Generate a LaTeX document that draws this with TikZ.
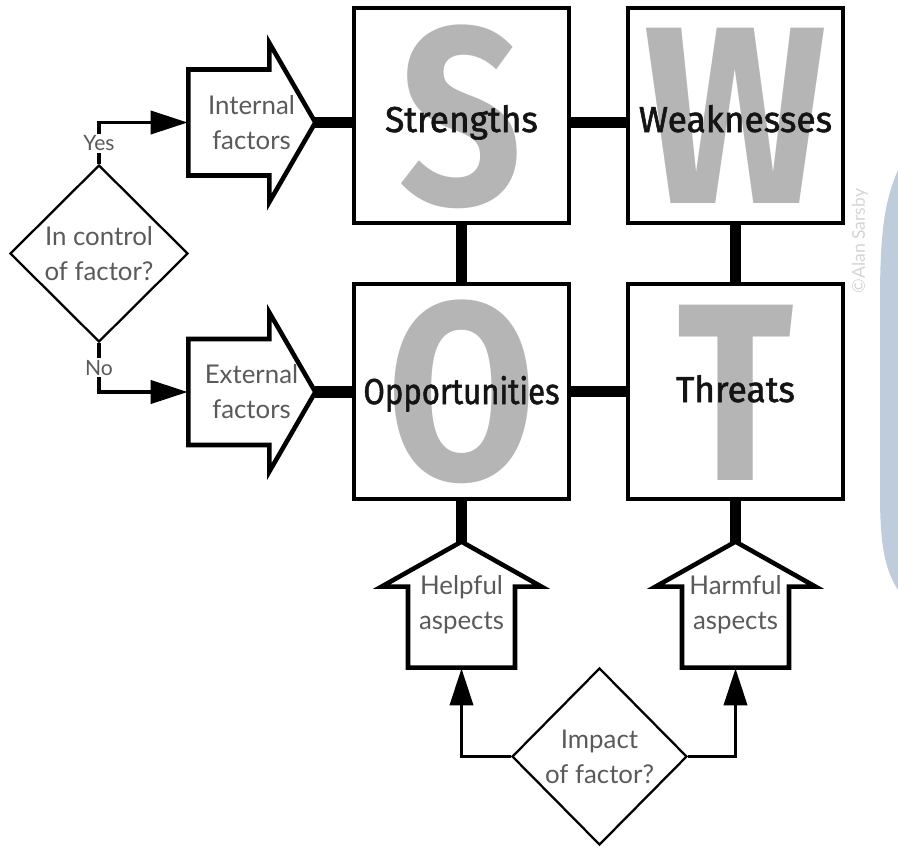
\documentclass[tikz,border=0pt]{standalone}
\usepackage{fontspec}
\usepackage{xcolor}
\newfontfamily\handfont{Lato}
\newfontfamily\swotfont[FakeStretch=0.98, FakeBold=1.6]{Fira Sans}
\newfontfamily\letterfont[FakeStretch=0.85]{Fira Sans}
\definecolor{swotgrey}{RGB}{181,181,181}
\definecolor{handgrey}{RGB}{90,90,90}
\definecolor{bandblue}{RGB}{190,204,220}
\definecolor{markgrey}{RGB}{212,212,212}
\usetikzlibrary{arrows.meta, positioning, shapes.geometric}

\begin{document}
\begin{tikzpicture}[
  swot-box/.style={draw, line width=2.4pt, minimum width=4.3cm, minimum height=4.3cm, inner sep=0pt},
  swot-letter/.style={anchor=base, text=swotgrey, inner sep=0pt,
                      font=\letterfont\bfseries\fontsize{144}{144}\selectfont},
  swot-label/.style={anchor=base, text=black!92, inner sep=0pt,
                     font=\swotfont\fontsize{20.5}{24}\selectfont},
  hand-text/.style={text=handgrey, align=center, inner sep=0pt,
                    font=\handfont\fontsize{14.7}{19.9}\selectfont},
  decision/.style={diamond, aspect=1, draw, line width=1.3pt, hand-text},
  block-line/.style={line width=2.6pt, line join=miter},
  thick-link/.style={line width=6.8pt},
  flow/.style={line width=2.2pt, -{Triangle[length=0.74cm, width=0.46cm]}},
  flow-label/.style={fill=white, text=handgrey, inner sep=1pt,
                     font=\handfont\fontsize{12}{14}\selectfont}
]
\useasboundingbox (0,0) rectangle (17.96,-16.96);

% --- blue edge and credit on the right ---
\fill[bandblue] (17.96,-3.40) .. controls (17.70,-4.00) and (17.60,-4.60) .. (17.60,-6.00)
  -- (17.60,-9.90) .. controls (17.60,-10.90) and (17.70,-11.40) .. (17.96,-11.80) -- cycle;
\node[rotate=90, text=markgrey, font=\handfont\fontsize{10}{12}\selectfont] (credit) at (17.20,-4.82) {\textcopyright Alan Sarsby};

% --- big grey letters ---
\node[swot-letter] (letter-s) at (9.23,-4.08) {S};
\node[swot-letter] (letter-w) at (14.71,-4.06) {W};
\node[swot-letter] (letter-o) at (9.23,-9.58) {O};
\node[swot-letter] (letter-t) at (14.71,-9.60) {T};

% --- the four SWOT boxes ---
\node[swot-box] (box-s) at (9.23,-2.31) {};
\node[swot-box] (box-w) at (14.71,-2.31) {};
\node[swot-box] (box-o) at (9.23,-7.83) {};
\node[swot-box] (box-t) at (14.71,-7.83) {};

\node[swot-label] (label-s) at (9.23,-2.64) {Strengths};
\node[swot-label] (label-w) at (14.71,-2.64) {Weaknesses};
\node[swot-label] (label-o) at (9.23,-8.08) {\scalebox{0.88}[1]{Opportunities}};
\node[swot-label] (label-t) at (14.71,-8.04) {Threats};

% --- factor arrows on the left ---
\node[hand-text, minimum width=2.54cm, minimum height=3.18cm] (arrow-int) at (5.03,-2.45) {Internal\\factors};
\draw[block-line] (arrow-int.east) -- ++(-0.92,1.59) -- ++(0,-0.53) -- ++(-1.62,0)
  -- ++(0,-2.12) -- ++(1.62,0) -- ++(0,-0.53) -- cycle;

\node[hand-text, minimum width=2.54cm, minimum height=3.18cm] (arrow-ext) at (5.03,-7.84) {External\\factors};
\draw[block-line] (arrow-ext.east) -- ++(-0.92,1.59) -- ++(0,-0.53) -- ++(-1.62,0)
  -- ++(0,-2.12) -- ++(1.62,0) -- ++(0,-0.53) -- cycle;

% --- aspect arrows at the bottom ---
\node[hand-text, minimum width=3.2cm, minimum height=2.52cm] (arrow-help) at (9.23,-12.10) {Helpful\\aspects};
\draw[block-line] (arrow-help.north) -- ++(-1.6,-0.9) -- ++(0.53,0) -- ++(0,-1.62)
  -- ++(2.14,0) -- ++(0,1.62) -- ++(0.53,0) -- cycle;

\node[hand-text, minimum width=3.2cm, minimum height=2.52cm] (arrow-harm) at (14.71,-12.10) {Harmful\\aspects};
\draw[block-line] (arrow-harm.north) -- ++(-1.6,-0.9) -- ++(0.53,0) -- ++(0,-1.62)
  -- ++(2.14,0) -- ++(0,1.62) -- ++(0.53,0) -- cycle;

% --- decisions ---
\node[decision, minimum width=3.56cm, minimum height=3.54cm] (dia-control) at (1.98,-5.07) {In control\\of factor?};
\node[decision, minimum width=3.5cm, minimum height=3.54cm] (dia-impact) at (11.99,-15.13) {Impact\\of factor?};

% --- thick links ---
\draw[thick-link] (arrow-int.east) -- (arrow-int.east -| box-s.west);
\draw[thick-link] (arrow-ext.east) -- (arrow-ext.east -| box-o.west);
\draw[thick-link] (box-s.east |- arrow-int.east) -- (box-w.west |- arrow-int.east);
\draw[thick-link] (box-o.east) -- (box-t.west);
\draw[thick-link] (box-s.south) -- (box-o.north);
\draw[thick-link] (box-w.south) -- (box-t.north);
\draw[thick-link] (box-o.south) -- (arrow-help.north);
\draw[thick-link] (box-t.south) -- (arrow-harm.north);

% --- decision flows ---
\draw[flow] (dia-control.north) |- node[flow-label, pos=0.25] {Yes} (arrow-int.west);
\draw[flow] (dia-control.south) |- node[flow-label, pos=0.25] {No} (arrow-ext.west);
\draw[flow] (dia-impact.west) -| (arrow-help.south);
\draw[flow] (dia-impact.east) -| (arrow-harm.south);

\end{tikzpicture}
\end{document}
